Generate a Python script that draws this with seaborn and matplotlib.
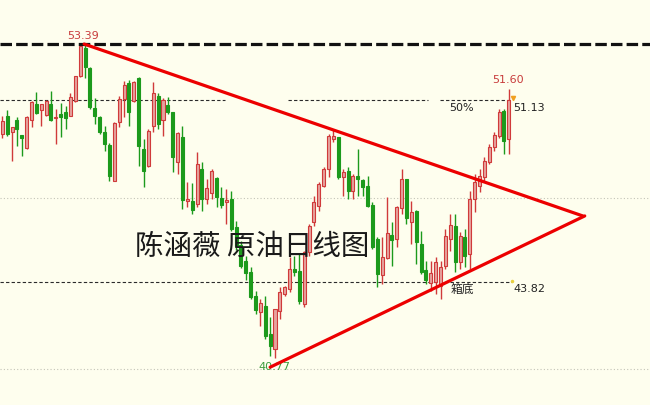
import numpy as np
import pandas as pd
import seaborn as sns
import matplotlib
matplotlib.use('Agg')
import matplotlib.pyplot as plt


# daily crude oil candles (price, USD)
opens = [49.77, 50.50, 49.85, 50.34, 49.73, 49.21, 50.34, 50.98, 50.74, 50.54,
         50.98, 50.42, 50.58, 50.66, 50.50, 51.10, 52.10, 53.23, 52.43, 50.82,
         50.46, 49.85, 49.33, 47.88, 50.26, 51.18, 51.82, 51.10, 52.02, 49.17,
         48.49, 50.10, 51.30, 50.34, 50.94, 50.66, 48.65, 49.65, 47.08, 47.08,
         46.96, 48.37, 47.16, 47.40, 48.00, 47.20, 47.04, 47.16, 46.03, 45.31,
         44.67, 44.23, 43.26, 42.62, 42.86, 41.74, 41.14, 42.66, 43.34, 43.54,
         44.35, 44.27, 42.94, 45.03, 46.24, 46.88, 47.68, 48.37, 49.57, 49.65,
         48.04, 48.29, 47.48, 48.08, 47.92, 47.68, 46.92, 45.55, 44.10, 44.79,
         45.71, 45.55, 46.80, 47.96, 46.24, 46.68, 45.35, 44.31, 43.78, 43.82,
         43.66, 44.47, 45.55, 46.07, 44.63, 45.63, 44.95, 47.16, 47.68, 48.04,
         48.65, 49.25, 49.69, 50.70, 49.57]
highs = [50.50, 50.74, 50.05, 50.46, 49.73, 50.50, 51.10, 51.46, 50.98, 51.14,
         51.50, 50.78, 51.02, 50.90, 51.42, 52.10, 53.31, 53.39, 52.47, 51.22,
         50.50, 50.10, 49.41, 50.26, 51.30, 51.90, 51.94, 51.90, 52.06, 49.57,
         49.97, 51.86, 51.42, 51.22, 51.26, 50.66, 49.85, 50.10, 47.84, 47.80,
         49.05, 48.65, 47.96, 48.37, 48.04, 47.64, 47.56, 47.48, 46.28, 45.47,
         44.87, 44.43, 43.46, 43.14, 43.26, 42.43, 42.74, 43.62, 43.66, 44.83,
         44.87, 44.95, 45.07, 46.16, 47.28, 47.84, 48.45, 49.77, 49.97, 49.65,
         48.37, 48.45, 48.17, 49.17, 47.96, 48.08, 47.04, 45.63, 45.63, 47.24,
         46.24, 46.88, 48.37, 47.96, 47.08, 46.72, 45.87, 44.67, 44.67, 44.83,
         44.67, 45.95, 46.56, 46.56, 45.83, 45.95, 47.48, 48.17, 48.37, 48.85,
         49.37, 49.85, 50.78, 50.78, 51.60]
lows = [49.61, 49.69, 48.69, 49.29, 48.89, 49.17, 50.05, 50.58, 50.10, 50.50,
        50.30, 49.37, 49.65, 49.97, 50.50, 51.06, 52.06, 52.02, 50.78, 50.18,
        49.77, 49.09, 47.88, 47.88, 50.05, 50.46, 50.10, 51.06, 48.49, 47.64,
        48.45, 49.85, 49.97, 49.69, 50.58, 48.25, 48.17, 46.76, 46.84, 46.56,
        46.84, 46.68, 46.96, 47.16, 46.84, 46.80, 46.16, 45.87, 45.11, 44.39,
        43.90, 43.14, 42.55, 42.06, 41.54, 40.86, 40.77, 42.35, 43.26, 43.42,
        44.06, 42.94, 42.82, 44.87, 46.07, 46.68, 47.64, 48.04, 49.45, 47.96,
        47.28, 47.16, 47.16, 47.28, 47.28, 46.84, 45.15, 43.62, 43.74, 44.75,
        44.47, 45.23, 46.56, 46.16, 45.35, 44.55, 44.15, 43.74, 43.46, 43.34,
        43.14, 44.35, 45.07, 44.23, 44.35, 44.43, 44.35, 46.64, 47.44, 47.88,
        48.57, 49.09, 49.61, 48.97, 48.97]
closes = [50.30, 49.77, 50.05, 49.97, 49.61, 50.46, 51.06, 50.62, 50.98, 51.10,
          50.34, 50.46, 50.46, 50.42, 51.26, 52.10, 53.31, 52.47, 50.86, 50.50,
          49.85, 49.37, 48.08, 50.22, 51.18, 51.74, 50.66, 51.86, 49.29, 48.29,
          49.89, 51.42, 50.18, 51.14, 50.66, 48.85, 49.81, 47.12, 47.16, 46.72,
          48.57, 47.16, 47.60, 48.29, 47.24, 46.92, 47.12, 45.95, 45.27, 44.47,
          44.19, 43.22, 42.70, 42.98, 41.66, 41.26, 42.74, 43.42, 43.62, 44.35,
          44.23, 43.06, 45.03, 46.07, 47.04, 47.76, 48.37, 49.69, 49.69, 48.04,
          48.25, 47.48, 48.08, 47.96, 47.64, 46.88, 45.23, 44.15, 44.83, 45.79,
          45.51, 46.84, 47.96, 46.40, 46.64, 45.43, 44.23, 43.90, 44.19, 44.63,
          44.43, 45.67, 46.11, 44.63, 45.67, 44.87, 47.16, 47.84, 48.08, 48.69,
          49.25, 49.73, 50.66, 49.49, 51.13]

# triangle trend lines (day index, price)
upper_x = [16.8, 119.2]
upper_y = [53.39, 46.48]
lower_x = [55.0, 119.6]
lower_y = [40.40, 46.48]

# key levels
top_level = 53.39
fib_level = 51.13
box_level = 43.82
grid_levels = [47.20, 40.32]

bg = '#fefeee'
red_edge = '#d03a3a'
red_fill = '#e6a39e'
green = '#1c9a1c'
line_red = '#ec0000'

sns.set_theme(style='white')
plt.rcParams['font.family'] = ['DejaVu Sans', 'Noto Sans CJK SC']

fig = plt.figure(figsize=(6.5, 4.06), dpi=100)
fig.patch.set_facecolor(bg)
ax = fig.add_axes([0, 0, 1, 1])
ax.set_facecolor(bg)

df = pd.DataFrame({'day': np.arange(len(opens)), 'open': opens, 'high': highs,
                   'low': lows, 'close': closes})
df['up'] = df['close'] >= df['open']
df['bottom'] = df[['open', 'close']].min(axis=1)
df['body'] = (df['close'] - df['open']).abs()

xmin, xmax = -0.47, 133.0

# faint grid
for lv in grid_levels:
    ax.hlines(lv, xmin, xmax, colors='#c4c4b8', linewidth=0.8,
              linestyles=(0, (1, 2)), zorder=0)

# level lines
ax.hlines(top_level, xmin, xmax, colors='#111111', linewidth=2.3,
          linestyles=(0, (3.6, 1.3)), zorder=1)
for a, b in [(xmin, 45.7), (58.7, 87.4), (89.9, 104.7)]:
    ax.hlines(fib_level, a, b, colors='#2a2a2a', linewidth=0.8,
              linestyles=(0, (3, 2)), zorder=1)
ax.hlines(box_level, xmin, 104.7, colors='#2a2a2a', linewidth=0.8,
          linestyles=(0, (3, 2)), zorder=1)

# candles
colors_edge = np.where(df['up'], red_edge, green)
colors_fill = np.where(df['up'], red_fill, green)
ax.vlines(df['day'], df['low'], df['high'], colors=colors_edge, linewidth=1.0, zorder=2)
ax.bar(df['day'], df['body'].clip(lower=0.03), bottom=df['bottom'], width=0.62,
       color=colors_fill, edgecolor=colors_edge, linewidth=0.8, zorder=3)

# triangle
sns.lineplot(x=upper_x, y=upper_y, color=line_red, linewidth=2.3, ax=ax, zorder=4)
sns.lineplot(x=lower_x, y=lower_y, color=line_red, linewidth=2.3, ax=ax, zorder=4)

# labels
ax.annotate('53.39', (16.6, top_level), xytext=(0, 3), textcoords='offset points',
            ha='center', va='bottom', fontsize=8, color='#c83c3c')
ax.annotate('51.60', (103.8, 51.60), xytext=(0, 3), textcoords='offset points',
            ha='center', va='bottom', fontsize=8, color='#c83c3c')
ax.text(104.9, 50.86, '51.13', ha='left', va='center', fontsize=8, color='#222222')
ax.text(91.7, 50.86, '50%', ha='left', va='center', fontsize=8, color='#222222')
ax.text(104.9, 43.58, '43.82', ha='left', va='center', fontsize=8, color='#222222')
ax.text(92.1, 43.56, '箱底', ha='left', va='center', fontsize=8.5, color='#222222',
        family=['Noto Sans CJK SC', 'DejaVu Sans'])
ax.text(52.5, 40.45, '40.77', ha='left', va='center', fontsize=8, color='#3c9c3c')
ax.text(27.3, 45.27, '陈涵薇 原油日线图', ha='left', va='center', fontsize=20.5,
        color='#1a1a1a', family=['Noto Sans CJK SC', 'DejaVu Sans'])

# small terminal markers
ax.plot([104.9], [51.22], marker='v', markersize=3, color='#f0a020', zorder=5)
ax.plot([104.6], [43.86], marker='o', markersize=1.5, color='#e8d040', zorder=5)

ax.set_xlim(xmin, xmax)
ax.set_ylim(38.88, 55.20)
ax.axis('off')

fig.savefig('out.png', dpi=100, facecolor=bg)
